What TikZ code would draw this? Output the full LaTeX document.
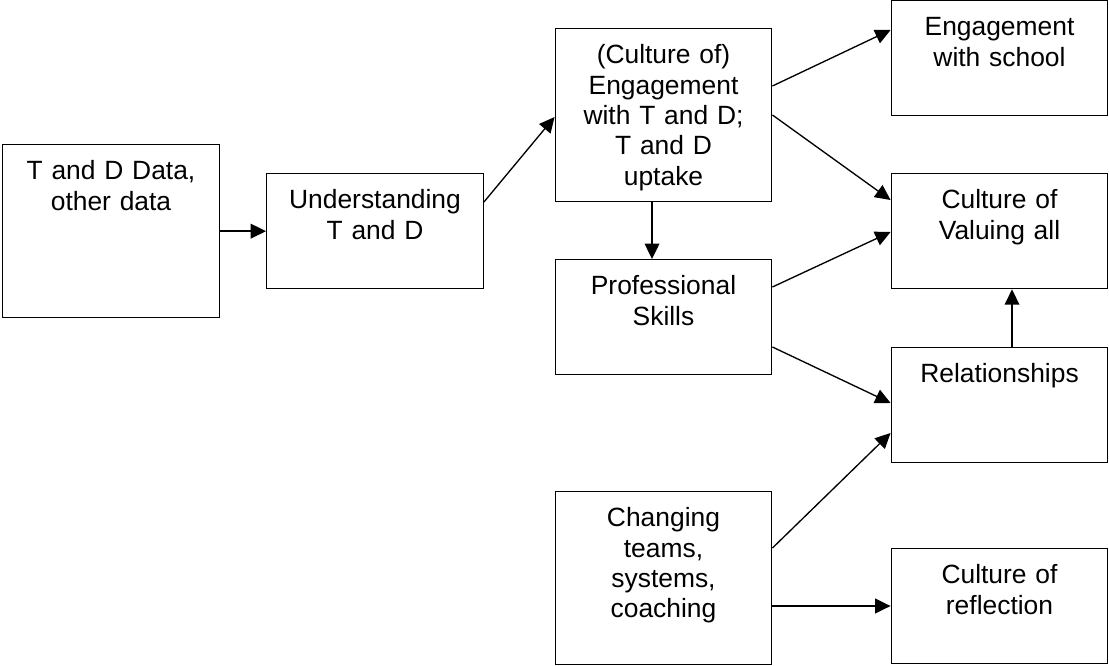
\documentclass[tikz,border=0pt]{standalone}
\usepackage{fontspec}
\setmainfont{Liberation Sans}
\usepackage{tikz}
\usetikzlibrary{arrows.meta}

\begin{document}
\begin{tikzpicture}[x=0.75pt, y={(0pt,-0.75pt)},
    box/.style={draw, line width=1pt, anchor=north, inner sep=0pt,
        minimum width=162.4pt, text width=150pt, align=center,
        text height=26.25pt, font=\fontsize{19.8}{22.8}\selectfont},
    tall/.style={text depth=103.5pt},
    short/.style={text depth=60pt},
    arr/.style={line width=1pt, -{Triangle[length=11.5pt, width=11pt]}}]
    \useasboundingbox (0,0) rectangle (1109,666);

    % Boxes
    \node[box, tall] (data) at (111,144) {T and D Data,\\other data};
    \node[box, short] (under) at (375,173) {Understanding\\T and D};
    \node[box, tall] (eng) at (663.5,28) {(Culture of)\\Engagement\\with T and D;\\T and D\\uptake};
    \node[box, short] (skills) at (663.5,259) {Professional\\Skills};
    \node[box, tall] (change) at (663.5,491) {Changing\\teams,\\systems,\\coaching};
    \node[box, short] (school) at (999.5,0) {Engagement\\with school};
    \node[box, short] (valuing) at (999.5,173) {Culture of\\Valuing all};
    \node[box, short] (rel) at (999.5,347) {Relationships};
    \node[box, short] (reflect) at (999.5,548) {Culture of\\reflection};

    % Arrows
    \draw[arr] (data.east |- under.west) -- (under.west);
    \draw[arr] (under.east |- 0,202) -- (eng.west |- 0,117);
    \draw[arr] (eng.east |- 0,86) -- (school.west |- 0,30);
    \draw[arr] (eng.east |- 0,115) -- (valuing.west |- 0,200);
    \draw[arr] (eng.south -| 652,0) -- (skills.north -| 652,0);
    \draw[arr] (skills.east |- 0,287) -- (valuing.west |- 0,232);
    \draw[arr] (skills.east |- 0,347) -- (rel.west |- 0,403);
    \draw[arr] (rel.north -| 1012,0) -- (valuing.south -| 1012,0);
    \draw[arr] (change.east |- 0,548) -- (rel.west |- 0,433);
    \draw[arr] (change.east |- 0,606) -- (reflect.west |- 0,606);
\end{tikzpicture}
\end{document}
